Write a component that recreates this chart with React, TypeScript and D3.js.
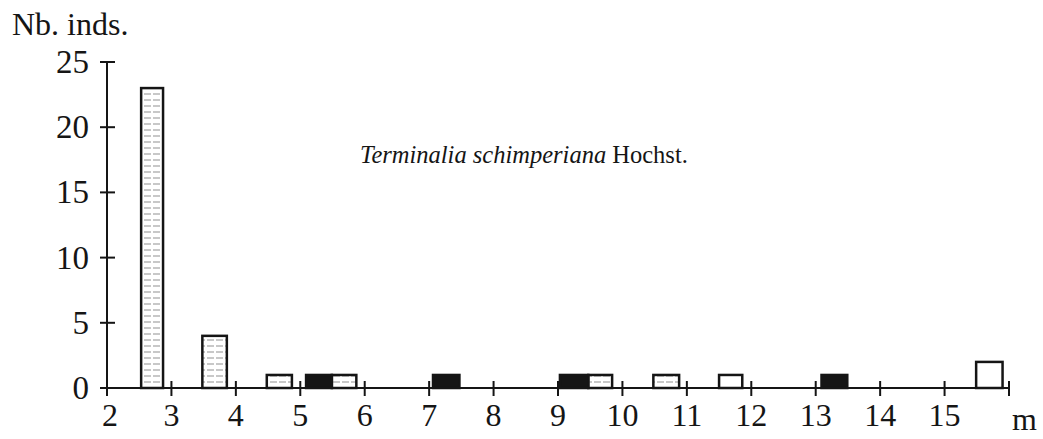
import React from "react";
import * as d3 from "d3";

const barStart = [2.53, 3.48, 4.48, 5.09, 5.49, 7.06, 9.03, 9.47, 10.48, 11.5, 13.09, 15.49];
const barEnd = [2.87, 3.86, 4.87, 5.49, 5.87, 7.47, 9.47, 9.84, 10.88, 11.86, 13.49, 15.9];
const barCount = [23, 4, 1, 1, 1, 1, 1, 1, 1, 1, 1, 2];
const barKind = ["hatched", "hatched", "hatched", "black", "hatched", "black", "black", "hatched", "hatched", "white", "black", "white"];
const xTicks = [2, 3, 4, 5, 6, 7, 8, 9, 10, 11, 12, 13, 14, 15, 16];
const xTickLabels = ["2", "3", "4", "5", "6", "7", "8", "9", "10", "11", "12", "13", "14", "15", ""];
const yTicks = [0, 5, 10, 15, 20, 25];

const W = 1043;
const H = 439;
const FONT = "'Liberation Serif', 'Times New Roman', serif";

export default function App() {
  const x = d3.scaleLinear().domain([2, 16]).range([107, 1009]);
  const y = d3.scaleLinear().domain([0, 25]).range([388, 62]);
  const ink = "#151515";

  return (
    <svg width={W} height={H} style={{ position: "absolute", left: 0, top: 0, background: "#fff" }} fontFamily={FONT}>
      <defs>
        <pattern id="hatch" patternUnits="userSpaceOnUse" width={9} height={6} y={y(0) - 6.5}>
          <line x1={0} x2={9} y1={0} y2={0} stroke="#555" strokeWidth={1.3} strokeDasharray="7 2" />
        </pattern>
      </defs>
      <rect width={W} height={H} fill="#fff" />

      {/* bars */}
      {barStart.map((s, i) => {
        const x0 = x(s);
        const x1 = x(barEnd[i]);
        const top = y(barCount[i]);
        const kind = barKind[i];
        const fill = kind === "black" ? ink : kind === "hatched" ? "url(#hatch)" : "#fff";
        return (
          <rect key={i} x={x0} y={top} width={x1 - x0} height={y(0) - top}
            fill={fill} stroke={ink} strokeWidth={2.5} />
        );
      })}

      {/* y axis */}
      <line x1={x(2)} x2={x(2)} y1={y(25)} y2={y(0)} stroke={ink} strokeWidth={2} />
      {yTicks.map((t) => (
        <g key={t}>
          <line x1={x(2) - 7} x2={x(2) + 8} y1={y(t)} y2={y(t)} stroke={ink} strokeWidth={2} />
          <text x={89} y={y(t) + 11} textAnchor="end" fontSize={33} fill={ink}>{t}</text>
        </g>
      ))}

      {/* x axis */}
      <line x1={x(2)} x2={x(16)} y1={y(0)} y2={y(0)} stroke={ink} strokeWidth={2} />
      {xTicks.map((t, i) => (
        <g key={t}>
          <line x1={x(t)} x2={x(t)} y1={y(0) - 7} y2={y(0) + 8} stroke={ink} strokeWidth={2} />
          <text x={x(t) + (i === 0 ? 3 : 0)} y={426} textAnchor="middle" fontSize={32} fill={ink}>{xTickLabels[i]}</text>
        </g>
      ))}

      <text x={12} y={35} fontSize={32} fill={ink}>Nb. inds.</text>
      <text x={1012} y={430} fontSize={32} fill={ink}>m</text>
      <text x={360} y={163} fontSize={24.5} fill={ink}>
        <tspan fontStyle="italic">Terminalia schimperiana</tspan>
        <tspan> Hochst.</tspan>
      </text>
    </svg>
  );
}
